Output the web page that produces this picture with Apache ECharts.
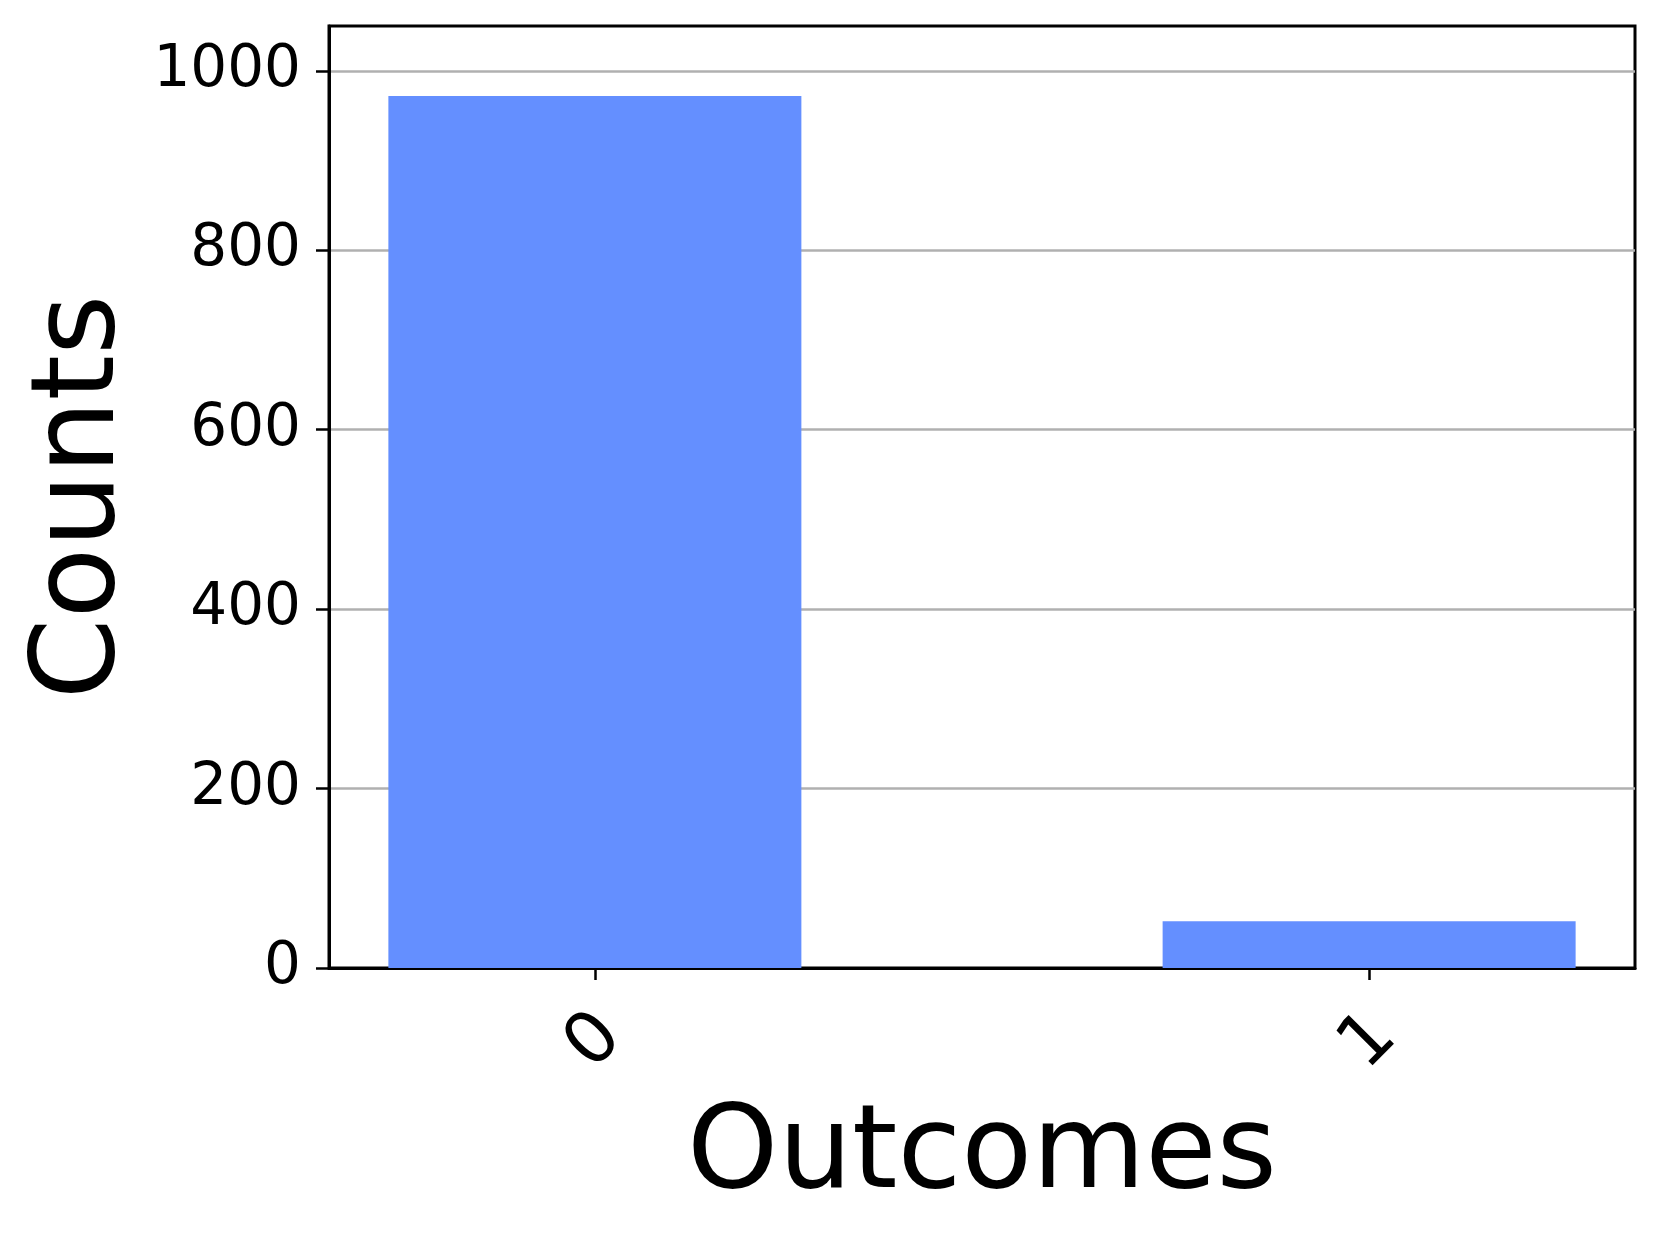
<!DOCTYPE html>
<html>
<head>
<meta charset="utf-8">
<title>Counts by outcome</title>
<script src="https://cdn.jsdelivr.net/npm/echarts@6/dist/echarts.min.js"></script>
<style>
  html, body { margin: 0; padding: 0; background: #fff; }
  #chart { width: 1662px; height: 1240px; }
</style>
</head>
<body>
<div id="chart"></div>
<script>
// outcomes and their counts (1024 shots)
const outcomes = ['0', '1']
const counts = [972, 52]
const outcomePositions = [0, 1]
const yTicks = [0, 200, 400, 600, 800, 1000]

const font = 'DejaVu Sans'

const chart = echarts.init(document.getElementById('chart'))

chart.setOption({
  backgroundColor: '#fff',
  animation: false,
  grid: {
    left: 329, right: 27, top: 26, bottom: 272,
    show: true, borderColor: '#000', borderWidth: 3,
    containLabel: false, outerBoundsMode: 'none'
  },
  xAxis: {
    type: 'value',
    min: -0.3434,
    max: 1.3434,
    name: 'Outcomes',
    nameLocation: 'middle',
    nameGap: 131,
    nameTextStyle: { fontFamily: font, fontSize: 116, color: '#000' },
    axisLine: { show: true, onZero: false, lineStyle: { color: '#000', width: 3 } },
    axisTick: { show: true, customValues: outcomePositions, length: 12, lineStyle: { color: '#000', width: 2.5 } },
    axisLabel: {
      customValues: outcomePositions,
      formatter: v => outcomes[Math.round(v)],
      rotate: 45, align: 'center', verticalAlign: 'middle', margin: 74,
      fontFamily: font, fontSize: 72, color: '#000'
    },
    splitLine: { show: false }
  },
  yAxis: {
    type: 'value',
    min: 0,
    max: 1050,
    interval: 200,
    name: 'Counts',
    nameLocation: 'middle',
    nameGap: 188,
    nameTextStyle: { fontFamily: font, fontSize: 116, color: '#000' },
    axisLine: { show: true, onZero: false, lineStyle: { color: '#000', width: 3 } },
    axisTick: { show: true, customValues: yTicks, length: 13, lineStyle: { color: '#000', width: 2.5 } },
    axisLabel: {
      customValues: yTicks,
      formatter: v => String(v),
      margin: 28,
      fontFamily: font, fontSize: 58, color: '#000'
    },
    splitLine: { show: true, lineStyle: { color: '#b0b0b0', width: 2.5 } }
  },
  series: [{
    type: 'bar',
    data: outcomePositions.map((x, i) => [x, counts[i]]),
    barWidth: 413,
    itemStyle: { color: '#648FFF' },
    z: 1
  }]
})
</script>
</body>
</html>
